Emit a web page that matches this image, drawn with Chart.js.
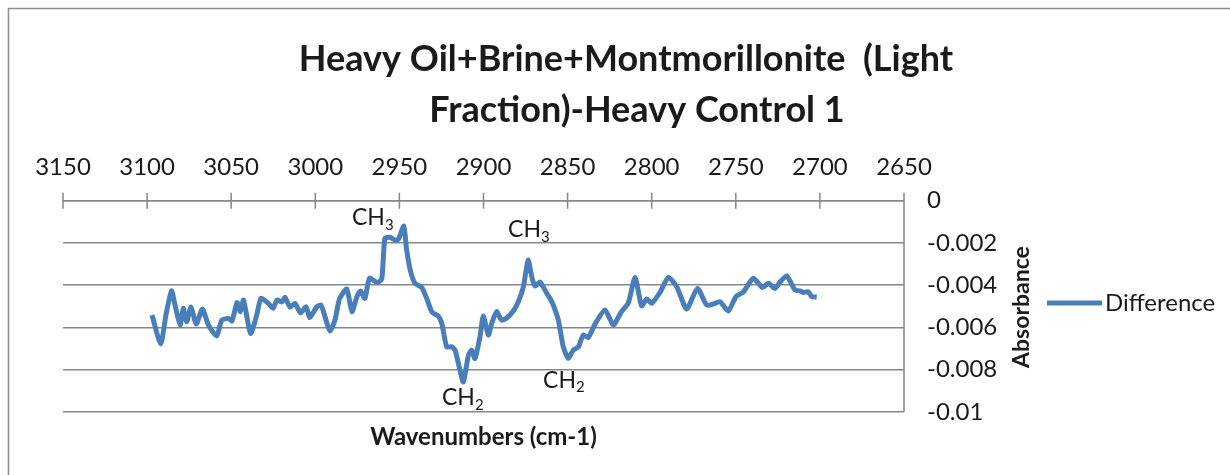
<!DOCTYPE html>
<html>
<head>
<meta charset="utf-8">
<script src="https://cdn.jsdelivr.net/npm/chart.js@4.4.1/dist/chart.umd.min.js"></script>
<style>
  html, body { margin: 0; padding: 0; background: #fff; }
  #wrap { width: 1230px; height: 475px; }
</style>
</head>
<body>
<div id="wrap"><canvas id="spectrum" width="1230" height="475"></canvas></div>
<script>
const chartTitle = ['Heavy Oil+Brine+Montmorillonite  (Light', 'Fraction)-Heavy Control 1'];
const xAxisTitle = 'Wavenumbers (cm-1)';
const yAxisTitle = 'Absorbance';
const seriesName = 'Difference';

const wavenumbers = [
  3097.1, 3091.9, 3088.8, 3085.5, 3083.4, 3080.4, 3078.5, 3076.5, 3073.9, 3070.8,
  3067.1, 3063.6, 3058.6, 3055.6, 3051.7, 3049.5, 3046.5, 3044.5, 3042.7, 3038.5,
  3034.8, 3032.3, 3027.9, 3025.0, 3022.8, 3019.8, 3018.0, 3015.0, 3012.1, 3008.8,
  3005.5, 3003.2, 2999.2, 2996.6, 2994.2, 2991.3, 2988.3, 2985.6, 2981.3, 2978.2,
  2975.2, 2973.1, 2970.5, 2967.8, 2963.3, 2960.5, 2958.6, 2955.3, 2952.3, 2950.5,
  2947.4, 2945.7, 2943.4, 2940.7, 2936.7, 2933.8, 2930.6, 2926.9, 2924.8, 2921.9,
  2918.9, 2916.9, 2914.0, 2912.0, 2908.9, 2907.0, 2905.1, 2902.1, 2900.1, 2897.1,
  2895.1, 2892.2, 2889.2, 2886.2, 2882.3, 2879.3, 2876.3, 2873.5, 2871.2, 2869.4,
  2866.4, 2862.4, 2860.5, 2858.5, 2855.5, 2852.6, 2849.6, 2846.6, 2843.6, 2840.7,
  2837.7, 2833.7, 2827.8, 2822.8, 2818.3, 2813.9, 2809.9, 2806.0, 2803.0, 2800.0,
  2795.1, 2790.1, 2785.1, 2779.2, 2772.8, 2767.3, 2763.4, 2759.4, 2754.5, 2749.9,
  2745.5, 2739.6, 2734.1, 2730.7, 2726.7, 2723.7, 2719.7, 2714.8, 2711.8, 2709.9,
  2706.9, 2704.9, 2701.9
];
const absorbance = [
  -0.00541, -0.00678, -0.00541, -0.00427, -0.00494, -0.00588, -0.00509, -0.00573, -0.00503, -0.00584,
  -0.00513, -0.00588, -0.00640, -0.00565, -0.00557, -0.00569, -0.00482, -0.00525, -0.00470, -0.00628,
  -0.00541, -0.00462, -0.00486, -0.00509, -0.00470, -0.00479, -0.00458, -0.00503, -0.00486, -0.00531,
  -0.00502, -0.00553, -0.00503, -0.00494, -0.00550, -0.00617, -0.00565, -0.00465, -0.00418, -0.00525,
  -0.00453, -0.00427, -0.00462, -0.00367, -0.00387, -0.00371, -0.00178, -0.00174, -0.00188, -0.00181,
  -0.00120, -0.00233, -0.00333, -0.00391, -0.00411, -0.00462, -0.00527, -0.00546, -0.00580, -0.00692,
  -0.00691, -0.00707, -0.00801, -0.00858, -0.00730, -0.00707, -0.00747, -0.00644, -0.00546, -0.00636,
  -0.00580, -0.00525, -0.00565, -0.00555, -0.00522, -0.00478, -0.00408, -0.00281, -0.00363, -0.00404,
  -0.00385, -0.00438, -0.00462, -0.00494, -0.00565, -0.00691, -0.00746, -0.00707, -0.00692, -0.00636,
  -0.00647, -0.00584, -0.00517, -0.00588, -0.00529, -0.00484, -0.00363, -0.00498, -0.00465, -0.00486,
  -0.00434, -0.00363, -0.00407, -0.00513, -0.00415, -0.00494, -0.00489, -0.00478, -0.00522, -0.00454,
  -0.00432, -0.00367, -0.00411, -0.00391, -0.00415, -0.00385, -0.00356, -0.00423, -0.00427, -0.00434,
  -0.00431, -0.00454, -0.00456
];

const xTicks = [3150, 3100, 3050, 3000, 2950, 2900, 2850, 2800, 2750, 2700, 2650];
const yTicks = [0, -0.002, -0.004, -0.006, -0.008, -0.01];

// peak labels, anchored in data units (left edge, vertical middle)
const peakLabels = [
  { main: 'CH', sub: '3', wn: 2978.2, abs: -0.00082 },
  { main: 'CH', sub: '3', wn: 2885.4, abs: -0.00139 },
  { main: 'CH', sub: '2', wn: 2924.7, abs: -0.00934 },
  { main: 'CH', sub: '2', wn: 2864.6, abs: -0.00849 }
];

const FONT = 'Lato, "Open Sans", sans-serif';
const LINE_BLUE = '#4a7ebb';
const AXIS_GREY = '#878787';
const TEXT = '#1a1a1a';

// white background, chart frame, axis lines and cross ticks, texts
const decorations = {
  id: 'decorations',
  beforeDraw(chart) {
    const ctx = chart.ctx;
    ctx.save();
    ctx.fillStyle = '#fff';
    ctx.fillRect(0, 0, chart.width, chart.height);
    ctx.strokeStyle = '#8e8e8e';
    ctx.lineWidth = 1.5;
    ctx.strokeRect(8.5, 8.5, chart.width + 20, chart.height + 20);
    ctx.restore();
  },
  beforeDatasetsDraw(chart) {
    const ctx = chart.ctx;
    const x = chart.scales.x;
    const y = chart.scales.y;
    const y0 = y.getPixelForValue(0);
    const area = chart.chartArea;
    ctx.save();
    ctx.strokeStyle = AXIS_GREY;
    ctx.lineWidth = 1.5;
    ctx.beginPath();
    ctx.moveTo(area.left, y0);
    ctx.lineTo(area.right, y0);
    ctx.moveTo(area.right, y0 - 8);
    ctx.lineTo(area.right, area.bottom);
    xTicks.forEach(v => {
      const px = x.getPixelForValue(v);
      ctx.moveTo(px, y0 - 8);
      ctx.lineTo(px, y0 + 8);
    });
    ctx.stroke();
    ctx.restore();
  },
  afterDraw(chart) {
    const ctx = chart.ctx;
    const x = chart.scales.x;
    const y = chart.scales.y;
    const area = chart.chartArea;
    ctx.save();
    ctx.fillStyle = TEXT;

    // title
    ctx.font = 'bold 36px ' + FONT;
    ctx.textAlign = 'center';
    ctx.textBaseline = 'alphabetic';
    ctx.fillText(chartTitle[0], 626, 71);
    ctx.fillText(chartTitle[1], 637, 122);

    // x axis title
    ctx.font = 'bold 24px ' + FONT;
    ctx.textBaseline = 'middle';
    ctx.fillText(xAxisTitle, (area.left + area.right) / 2, 437);

    // y axis title, reads bottom to top
    ctx.save();
    ctx.translate(1022, 307);
    ctx.rotate(-Math.PI / 2);
    ctx.font = 'bold 23px ' + FONT;
    ctx.fillText(yAxisTitle, 0, 0);
    ctx.restore();

    // legend
    ctx.strokeStyle = LINE_BLUE;
    ctx.lineWidth = 5;
    ctx.beginPath();
    ctx.moveTo(1047, 303);
    ctx.lineTo(1102, 303);
    ctx.stroke();
    ctx.font = '24px ' + FONT;
    ctx.textAlign = 'left';
    ctx.fillText(seriesName, 1105, 303);

    // CH3 / CH2 labels
    peakLabels.forEach(p => {
      const px = x.getPixelForValue(p.wn);
      const py = y.getPixelForValue(p.abs);
      ctx.font = '23px ' + FONT;
      ctx.textBaseline = 'middle';
      ctx.fillText(p.main, px, py);
      const w = ctx.measureText(p.main).width;
      ctx.font = '15px ' + FONT;
      ctx.fillText(p.sub, px + w, py + 7);
    });
    ctx.restore();
  }
};

new Chart(document.getElementById('spectrum'), {
  type: 'line',
  data: {
    datasets: [{
      label: seriesName,
      data: wavenumbers.map((w, i) => ({ x: w, y: absorbance[i] })),
      borderColor: LINE_BLUE,
      borderWidth: 5,
      pointRadius: 0,
      tension: 0.2,
      fill: false
    }]
  },
  options: {
    responsive: false,
    animation: false,
    devicePixelRatio: 1,
    layout: {
      padding: { left: 63, right: 226, top: 140.7, bottom: 63 }
    },
    plugins: {
      legend: { display: false },
      title: { display: false },
      tooltip: { enabled: false }
    },
    scales: {
      x: {
        type: 'linear',
        position: 'top',
        reverse: true,
        min: 2650,
        max: 3150,
        afterBuildTicks: scale => { scale.ticks = xTicks.map(v => ({ value: v })); },
        afterFit: scale => { scale.height = 60; },
        grid: { display: false, drawTicks: false },
        border: { display: false },
        ticks: {
          padding: 19,
          maxRotation: 0,
          color: TEXT,
          font: { family: FONT, size: 24 },
          callback: v => String(v)
        }
      },
      y: {
        type: 'linear',
        position: 'right',
        min: -0.01,
        max: 0,
        afterBuildTicks: scale => { scale.ticks = yTicks.map(v => ({ value: v })); },
        afterFit: scale => { scale.width = 100; },
        grid: { color: AXIS_GREY, lineWidth: 1.5, drawTicks: false },
        border: { display: false },
        ticks: {
          padding: 23,
          color: TEXT,
          font: { family: FONT, size: 24 },
          callback: v => String(Number(v.toFixed(3)))
        }
      }
    }
  },
  plugins: [decorations]
});
</script>
</body>
</html>
